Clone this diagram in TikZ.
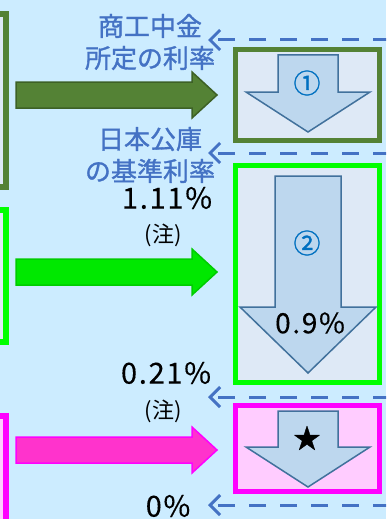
\documentclass[tikz,border=0pt]{standalone}
\usepackage{fontspec}
\setmainfont{Noto Sans CJK JP}
\newfontfamily\lblfont[FakeBold=1.2]{Noto Sans CJK JP}
\newfontfamily\numfont[LetterSpace=6,FakeBold=0.3]{Noto Sans CJK JP}
\usetikzlibrary{arrows.meta}

\definecolor{bgblue}{RGB}{204,236,255}
\definecolor{boxfill}{RGB}{222,233,246}
\definecolor{darkgreen}{RGB}{84,130,53}
\definecolor{darkgreenline}{RGB}{61,97,38}
\definecolor{brightgreen}{RGB}{0,255,0}
\definecolor{brightgreenfill}{RGB}{0,232,0}
\definecolor{magentaline}{RGB}{255,0,255}
\definecolor{magentafill}{RGB}{255,51,204}
\definecolor{pinkfill}{RGB}{255,204,255}
\definecolor{downfill}{RGB}{189,215,238}
\definecolor{downline}{RGB}{65,113,156}
\definecolor{labelblue}{RGB}{68,114,196}
\definecolor{circblue}{RGB}{0,112,192}

\tikzset{
  lbl/.style={text=labelblue, font=\lblfont\fontsize{26}{32}\selectfont, align=center, inner sep=0pt},
  pct/.style={font=\numfont\fontsize{29}{32}\selectfont, inner sep=0pt},
  note/.style={font=\fontsize{22}{24}\selectfont, inner sep=0pt},
  symb/.style={font=\lblfont\fontsize{27}{30}\selectfont, inner sep=0pt},
  ratearrow/.style={draw=labelblue, line width=3pt, dash pattern=on 17pt off 14pt,
    -{Straight Barb[length=10pt,width=20pt]}},
  downarrow/.style={fill=downfill, draw=downline, line width=1.5pt, line join=miter},
  rangebox/.style={fill=boxfill, line width=5pt},
}

% right pointing block arrow: style, y of its axis
\newcommand{\rightblock}[2]{%
  \draw[#1] (16,#2-13) -- (192,#2-13) -- (192,#2-23) -- (217,#2)
    -- (192,#2+23) -- (192,#2+13) -- (16,#2+13) -- cycle;}
% down pointing block arrow: shaft half, head half, top, neck, tip
\newcommand{\downblock}[5]{%
  \draw[downarrow] (308-#1,#3) -- (308+#1,#3) -- (308+#1,#4) -- (308+#2,#4)
    -- (308,#5) -- (308-#2,#4) -- (308-#1,#4) -- cycle;}

\begin{document}
\begin{tikzpicture}[x=1pt,y=-1pt]
  \useasboundingbox (0,0) rectangle (386,519);
  \clip (0,0) rectangle (386,519);
  \fill[bgblue] (0,0) rectangle (386,519);

  % boxes cut off at the left edge
  \draw[rangebox, line width=6pt, draw=darkgreen] (-20,14) rectangle (6,187);
  \draw[rangebox, line width=6pt, draw=brightgreen] (-20,210) rectangle (6,342);
  \draw[rangebox, line width=6pt, draw=magentaline, fill=pinkfill] (-20,416) rectangle (6,540);

  % block arrows
  \rightblock{fill=darkgreen, draw=darkgreenline, line width=1.5pt}{95}
  \rightblock{fill=brightgreenfill, draw=brightgreen!80!black, line width=1.5pt}{272}
  \rightblock{fill=magentafill, draw=magentaline, line width=1.5pt}{450}

  % boxes on the right
  \draw[rangebox, draw=darkgreen] (235.5,49.5) rectangle (379.5,140.5);
  \draw[rangebox, draw=brightgreen] (235.5,165.5) rectangle (379.5,382.5);
  \draw[rangebox, draw=magentaline, fill=pinkfill] (235.5,405.5) rectangle (379.5,491.5);

  \downblock{30}{62}{55}{92}{132}
  \downblock{33}{68}{176}{307}{373}
  \downblock{30}{62}{411}{447}{487}

  \node[symb, text=circblue] (one) at (307,83) {①};
  \node[symb, text=circblue] (two) at (307,243) {②};
  \node[symb] (star) at (307,438) {★};
  \node[pct, font=\numfont\fontsize{28}{30}\selectfont] (low) at (310,323) {0.9\%};

  % dashed rate lines
  \coordinate (r1) at (390,40);  \coordinate (t1) at (208,40);
  \coordinate (r2) at (390,153); \coordinate (t2) at (208,153);
  \coordinate (r3) at (390,397); \coordinate (t3) at (208,397);
  \coordinate (r4) at (390,505); \coordinate (t4) at (208,505);
  \draw[ratearrow] (r1) -- (t1);
  \draw[ratearrow] (r2) -- (t2);
  \draw[ratearrow] (r3) -- (t3);
  \draw[ratearrow] (r4) -- (t4);

  % rate labels
  \node[lbl] (shoko) at (150,42) {商工中金\\所定の利率};
  \node[lbl] (koko) at (150,155) {日本公庫\\の基準利率};
  \node[pct] (top) at (167,198) {1.11\%};
  \node[note] (note1) at (163,235) {(注)};
  \node[pct] (mid) at (166,373) {0.21\%};
  \node[note] (note2) at (163,411) {(注)};
  \node[pct] (zero) at (168,506) {0\%};
\end{tikzpicture}
\end{document}
